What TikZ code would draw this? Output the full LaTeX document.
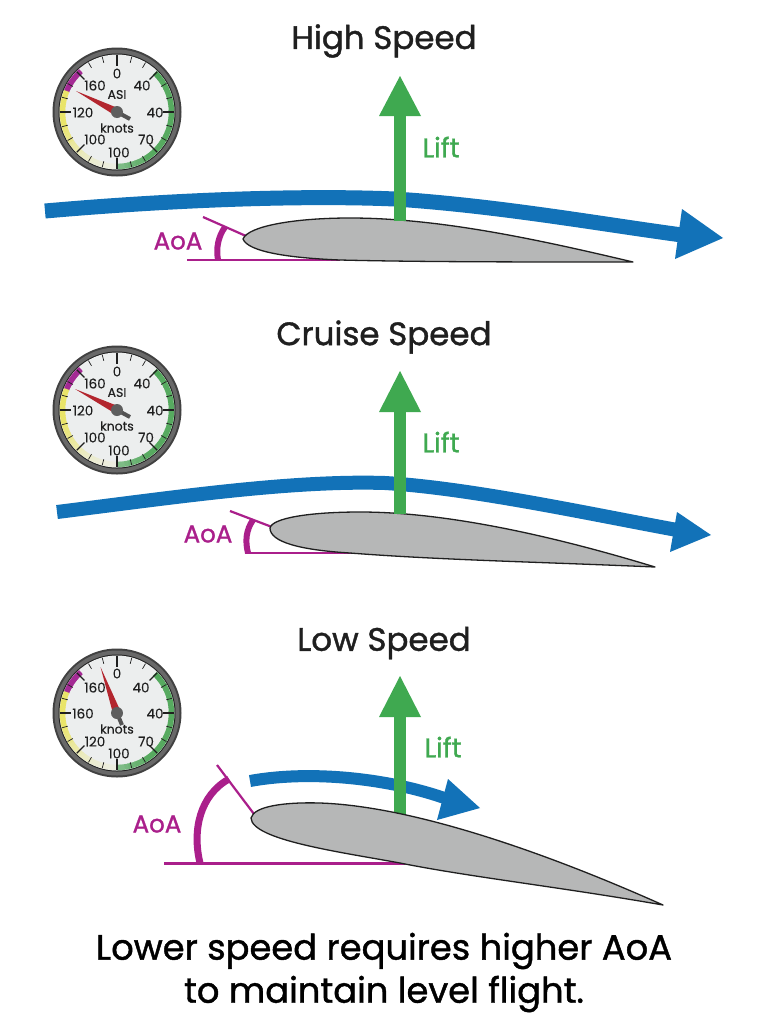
\documentclass[tikz,border=0pt]{standalone}
\usepackage{fontspec}
\setmainfont{Poppins}
\newfontfamily\medfont[FakeBold=1.2]{Poppins}
\newfontfamily\dialfont[FakeBold=0.4]{Poppins}
\usetikzlibrary{calc}
\definecolor{flowblue}{HTML}{1272B8}
\definecolor{liftgreen}{HTML}{3FA950}
\definecolor{aoamag}{HTML}{AA1F8B}
\definecolor{foilgray}{HTML}{B6B7B7}
\definecolor{facegray}{HTML}{ECEEEE}
\definecolor{inkdark}{HTML}{1F1F1F}
\definecolor{ringgray}{HTML}{686868}
\definecolor{bandyellow}{HTML}{E9E35A}
\definecolor{bandgreen}{HTML}{4FA659}
\definecolor{bandmag}{HTML}{A42A94}
\definecolor{needlered}{HTML}{B3262E}
\tikzset{
  x=1pt,y=-1pt,
  title/.style={font=\medfont\fontsize{32.5}{36}\selectfont,text=inkdark,inner sep=0pt},
  caption/.style={font=\medfont\fontsize{35.3}{40}\selectfont,text=black,inner sep=0pt},
  liftlabel/.style={font=\medfont\fontsize{27}{30}\selectfont,text=liftgreen,inner sep=0pt},
  aoalabel/.style={font=\medfont\fontsize{24.5}{28}\selectfont,text=aoamag,inner sep=0pt},
  dial/.style={font=\dialfont\fontsize{13.5}{15}\selectfont,text=inkdark,inner sep=0pt},
  dialsmall/.style={font=\dialfont\fontsize{12.5}{14}\selectfont,text=inkdark,inner sep=0pt},
  foil/.style={fill=foilgray,draw=inkdark,line width=1.3pt,line join=round},
  flow/.style={draw=flowblue,line cap=butt},
  flowhead/.style={fill=flowblue,draw=none},
  liftshaft/.style={draw=liftgreen,line width=12pt},
  lifthead/.style={fill=liftgreen,draw=none},
  refline/.style={draw=aoamag,line width=2.2pt},
  anglearc/.style={draw=aoamag,line cap=butt},
}

% Airspeed dial: #1 name, #2,#3 centre, #4,#5 needle tip, #6,#7 needle tail
\newcommand{\airdial}[7]{%
  \begin{scope}[shift={(#2,#3)}]
    \fill[inkdark!85!white] (0,0) circle[radius=64.5];
    \fill[ringgray] (0,0) circle[radius=62.5];
    \fill[inkdark] (0,0) circle[radius=58.5];
    \fill[facegray] (0,0) circle[radius=57.5];
    % coloured range bands, painted in short slices so the tone can fade
    \foreach \a in {-158,-156,...,-134}
      \draw[bandmag,line width=5.5pt] (\a:54.5) arc[start angle=\a,end angle=\a+2.6,radius=54.5];
    \foreach \a/\m in {-162/90,-166/90,-170/90,-174/90,-178/90,-182/90,-186/90,-190/90,-194/90,-198/85,-202/80,-206/75,-210/70,-214/65,-218/55,-222/50,-226/45,-230/38,-234/32,-238/28,-242/24,-246/20,-250/18,-254/16,-258/14,-262/12,-266/10,-270/8}
      \draw[bandyellow!\m!facegray,line width=5.5pt] (\a:54.5) arc[start angle=\a,end angle=\a+4.6,radius=54.5];
    \foreach \a/\m in {-46/100,-42/100,-38/95,-34/95,-30/95,-26/95,-22/95,-18/95,-14/95,-10/95,-6/95,-2/95,2/95,6/95,10/95,14/95,18/95,22/95,26/95,30/95,34/95,38/95,42/95,46/95,50/95,54/95,58/90,62/85,66/85,70/80,74/80,78/75,82/70,86/70}
      \draw[bandgreen!\m!facegray,line width=5.5pt] (\a:54.5) arc[start angle=\a,end angle=\a+4.6,radius=54.5];
    % graduations
    \foreach \a in {0,45,...,315}
      \draw[inkdark,line width=1.2pt] (\a:57) -- (\a:46);
    \foreach \a in {15,30,60,75,105,120,150,165,195,210,240,255,285,300,330,345}
      \draw[inkdark,line width=.7pt] (\a:57) -- (\a:51);
    % needle
    \fill[needlered] (#4,#5) -- ($(0,0)!4pt!90:(#4,#5)$) -- ($(0,0)!4pt!-90:(#4,#5)$) -- cycle;
    \draw[ringgray!80!black,line width=4pt] (0,0) -- (#6,#7);
    \fill[ringgray!90!black] (0,0) circle[radius=6];
  \end{scope}%
}

\begin{document}
\begin{tikzpicture}
\useasboundingbox (0,0) rectangle (768,1028);
\fill[white] (0,0) rectangle (768,1028);

% ---- High speed ----
\node[title] (titleHigh) at (384,41) {High Speed};
\airdial{a}{117}{112}{-41}{-21}{13}{7}
\begin{scope}[shift={(117,112)}]
  \node[dial] (a0) at (0,-38.5) {0};
  \node[dial] (a1) at (-22,-26.5) {160};
  \node[dial] (a2) at (25,-26.5) {40};
  \node[dialsmall] (a3) at (0,-17.5) {ASI};
  \node[dial] (a4) at (-34,0.5) {120};
  \node[dial] (a5) at (38,0.5) {40};
  \node[dialsmall] (a6) at (0,16) {knots};
  \node[dial] (a7) at (-22,27.5) {100};
  \node[dial] (a8) at (29,27.5) {70};
  \node[dial] (a9) at (2,40.5) {100};
\end{scope}
\draw[refline] (187,260) -- (340,260);
\draw[refline] (203,217) -- (246,236);
\draw[anglearc,line width=6pt] (218,260) .. controls (216,248) and (218,237) .. (225,227);
\path[foil] (243,239) .. controls (248,226) and (295,218) .. (350,218)
  .. controls (440,218) and (540,240) .. (633,262)
  .. controls (520,262) and (420,262) .. (340,260)
  .. controls (290,258) and (248,252) .. (243,239) -- cycle;
\draw[flow,line width=15pt] (45,211) .. controls (170,200) and (300,195) .. (395,199)
  .. controls (500,206) and (600,224) .. (682,235);
\fill[flowhead] (723,238) -- (682,209) -- (675,259) -- cycle;
\draw[liftshaft] (400,221) -- (400,114);
\fill[lifthead] (400,76) -- (421,116) -- (379,116) -- cycle;
\node[liftlabel] (liftHigh) at (441,147) {Lift};
\node[aoalabel] (aoaHigh) at (178,241) {AoA};

% ---- Cruise speed ----
\node[title] (titleCruise) at (384,337) {Cruise Speed};
\airdial{b}{117}{410}{-42}{-21}{13}{7}
\begin{scope}[shift={(117,410)}]
  \node[dial] (b0) at (0,-38.5) {0};
  \node[dial] (b1) at (-22,-26.5) {160};
  \node[dial] (b2) at (25,-26.5) {40};
  \node[dialsmall] (b3) at (0,-17.5) {ASI};
  \node[dial] (b4) at (-34,0.5) {120};
  \node[dial] (b5) at (38,0.5) {40};
  \node[dialsmall] (b6) at (0,16) {knots};
  \node[dial] (b7) at (-22,27.5) {100};
  \node[dial] (b8) at (29,27.5) {70};
  \node[dial] (b9) at (2,40.5) {100};
\end{scope}
\draw[refline] (245,553) -- (370,553);
\draw[refline] (230,511) -- (272,527);
\draw[anglearc,line width=6pt] (248,553) .. controls (245,541) and (246,530) .. (253,520);
\path[foil] (270,528) .. controls (272,518) and (310,512) .. (360,512)
  .. controls (450,512) and (560,538) .. (655,567)
  .. controls (540,562) and (440,560) .. (350,553)
  .. controls (300,550) and (270,542) .. (270,528) -- cycle;
\draw[flow,line width=14pt] (57,512) .. controls (170,498) and (290,480) .. (385,483)
  .. controls (470,488) and (590,514) .. (677,530);
\fill[flowhead] (711,535) -- (677,512) -- (670,552) -- cycle;
\draw[liftshaft] (400,514) -- (400,410);
\fill[lifthead] (400,371) -- (421,412) -- (379,412) -- cycle;
\node[liftlabel] (liftCruise) at (441,442) {Lift};
\node[aoalabel] (aoaCruise) at (208,534) {AoA};

% ---- Low speed ----
\node[title] (titleLow) at (384,643) {Low Speed};
\airdial{c}{117}{713}{-16.5}{-46}{5}{12}
\begin{scope}[shift={(117,713)}]
  \node[dial] (c0) at (0,-39.5) {0};
  \node[dial] (c1) at (-22,-25.5) {160};
  \node[dial] (c2) at (24,-25.5) {40};
  \node[dial] (c4) at (-34,0.5) {160};
  \node[dial] (c5) at (38,0.5) {40};
  \node[dialsmall] (c6) at (0,16) {knots};
  \node[dial] (c7) at (-22,28.5) {120};
  \node[dial] (c8) at (29,28.5) {70};
  \node[dial] (c9) at (2,40.5) {100};
\end{scope}
\draw[refline] (164,863.5) -- (405,863.5);
\draw[refline] (217,765) -- (254,814);
\draw[anglearc,line width=7pt] (200,863) .. controls (192,830) and (200,795) .. (229,779);
\draw[flow,line width=12pt] (250,781) .. controls (310,770) and (390,778) .. (450,800);
\fill[flowhead] (480,808) -- (448,779) -- (437,820) -- cycle;
\draw[liftshaft] (400,815) -- (400,715);
\fill[lifthead] (400,676) -- (421,717) -- (379,717) -- cycle;
\path[foil] (251,818) .. controls (254,806) and (285,802) .. (320,803)
  .. controls (410,806) and (540,850) .. (663,905)
  .. controls (560,887) and (470,877) .. (400,863)
  .. controls (340,852) and (252,840) .. (251,818) -- cycle;
\node[liftlabel] (liftLow) at (443,747) {Lift};
\node[aoalabel] (aoaLow) at (157,824) {AoA};

% ---- Closing statement ----
\node[caption] (cap1) at (384,951) {Lower speed requires higher AoA};
\node[caption] (cap2) at (384,994) {to maintain level flight.};
\end{tikzpicture}
\end{document}
